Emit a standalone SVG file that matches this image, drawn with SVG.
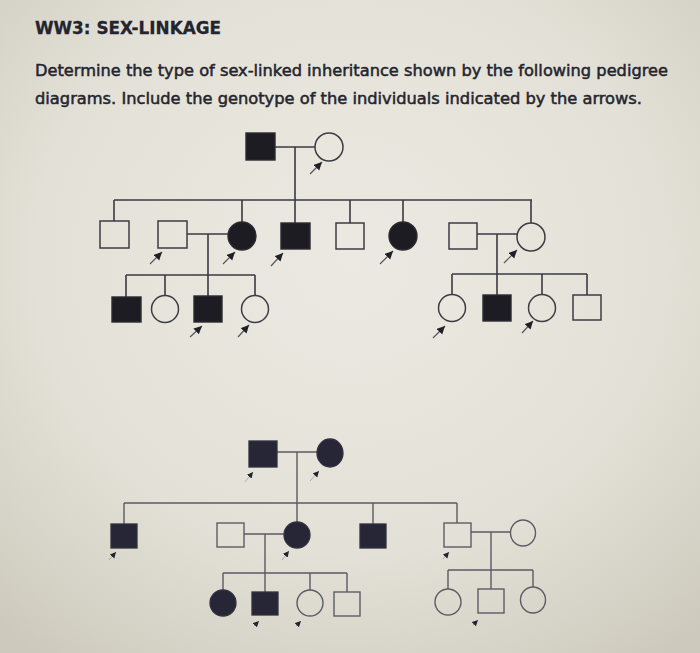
<svg xmlns="http://www.w3.org/2000/svg" width="700" height="653" viewBox="0 0 700 653">
<defs>
<radialGradient id="bg" cx="0.5" cy="0.4" r="0.75">
<stop offset="0" stop-color="#ebe9e1"/>
<stop offset="0.6" stop-color="#e3e1d7"/>
<stop offset="1" stop-color="#cdcabd"/>
</radialGradient>
<marker id="ah" markerUnits="userSpaceOnUse" markerWidth="10" markerHeight="10" refX="8" refY="4" orient="auto">
<path d="M0,0 L8,4 L0,8 Z" fill="#1f1f27"/>
</marker>
<marker id="ah2" markerUnits="userSpaceOnUse" markerWidth="8" markerHeight="8" refX="6" refY="3" orient="auto">
<path d="M0,0 L6,3 L0,6 Z" fill="#222230"/>
</marker>
</defs>
<style>
.t{font-family:"DejaVu Sans","Liberation Sans",sans-serif;fill:#24242e}
.title{font-weight:bold;font-size:17px;stroke:#24242e;stroke-width:0.3}
.body{font-size:16px;stroke:#24242e;stroke-width:0.5}
.ln{stroke:#3a3a44;stroke-width:1.6;fill:none}
.ln2{stroke:#5a5a64;stroke-width:1.4;fill:none}
.aff{fill:#1d1c22;stroke:#2a2a30;stroke-width:1.4}
.un{fill:none;stroke:#3c3c44;stroke-width:1.5}
.aff2{fill:#262637;stroke:#30303e;stroke-width:1.3}
.un2{fill:none;stroke:#5c5c66;stroke-width:1.4}
.ar{stroke:#555560;stroke-width:1.2;fill:none}
.ar2{stroke:#9a9aa0;stroke-width:0.8;fill:none}
</style>
<rect width="700" height="653" fill="url(#bg)"/>
<g id="texts">
<text class="t title" x="35" y="34" textLength="186" lengthAdjust="spacingAndGlyphs">WW3: SEX-LINKAGE</text>
<text class="t body" x="35" y="76" textLength="633" lengthAdjust="spacingAndGlyphs">Determine the type of sex-linked inheritance shown by the following pedigree</text>
<text class="t body" x="35" y="104" textLength="607" lengthAdjust="spacingAndGlyphs">diagrams. Include the genotype of the individuals indicated by the arrows.</text>
</g>
<g id="connectors">
<path class="ln" d="M275,147 H315 M295,147 V224 M114,200 H532 M114,200 V221 M242,200 V222 M350,200 V223 M403,200 V222 M531,200 V223"/>
<path class="ln" d="M187,234 H228 M208,234 V296 M126,275 H255 M126,275 V297 M165,275 V295.5 M255,275 V295.5"/>
<path class="ln" d="M477,234 H517 M497,234 V295 M452,274 H587 M452,274 V294.5 M542,274 V294.5 M587,274 V295"/>
<path class="ln2" d="M277,452 H317 M297,452 V522 M124,503 H457 M124,503 V524 M373,503 V524 M457,503 V523"/>
<path class="ln2" d="M244,534 H284 M265,534 V592 M223,573 H347 M223,573 V590 M310,573 V590 M347,573 V592"/>
<path class="ln2" d="M471,532 H510 M491,532 V589 M448,570 H533 M448,570 V589 M533,570 V587"/>
<g class="ar" marker-end="url(#ah)">
<line x1="310" y1="174" x2="322" y2="162"/>
<line x1="150" y1="264" x2="162" y2="252"/>
<line x1="223" y1="264" x2="235" y2="252"/>
<line x1="271" y1="266" x2="283" y2="253"/>
<line x1="380" y1="264" x2="393" y2="251"/>
<line x1="504" y1="263" x2="517" y2="250"/>
<line x1="190" y1="337" x2="202" y2="326"/>
<line x1="238" y1="337" x2="249" y2="325"/>
<line x1="433" y1="338" x2="445" y2="326"/>
<line x1="522" y1="333" x2="533" y2="321"/>
</g>
<g class="ar2" marker-end="url(#ah2)">
<line x1="245" y1="482" x2="253" y2="472"/>
<line x1="310" y1="481" x2="319" y2="471"/>
<line x1="109" y1="560" x2="116" y2="552"/>
<line x1="282" y1="560" x2="289" y2="551"/>
<line x1="443" y1="559" x2="449" y2="552"/>
<line x1="254" y1="626" x2="259" y2="621"/>
<line x1="296" y1="626" x2="301" y2="621"/>
<line x1="473" y1="625" x2="478" y2="620"/>
</g>
</g>
<g id="p1-I1"><rect class="aff" x="246" y="133" width="29" height="27"/></g>
<g id="p1-I2"><circle class="un" cx="329" cy="147" r="14"/></g>
<g id="p1-II1"><rect class="un" x="100" y="221" width="29" height="27"/></g>
<g id="p1-II2"><rect class="un" x="158" y="221" width="29" height="27"/></g>
<g id="p1-II3"><circle class="aff" cx="242" cy="236" r="14"/></g>
<g id="p1-II4"><rect class="aff" x="281" y="223" width="29" height="26"/></g>
<g id="p1-II5"><rect class="un" x="336" y="223" width="28" height="26"/></g>
<g id="p1-II6"><circle class="aff" cx="403" cy="236" r="14"/></g>
<g id="p1-II7"><rect class="un" x="449" y="223" width="28" height="26"/></g>
<g id="p1-II8"><circle class="un" cx="531" cy="237" r="14"/></g>
<g id="p1-III1"><rect class="aff" x="112" y="297" width="29" height="25"/></g>
<g id="p1-III2"><circle class="un" cx="165" cy="309" r="13.5"/></g>
<g id="p1-III3"><rect class="aff" x="194" y="296" width="28" height="26"/></g>
<g id="p1-III4"><circle class="un" cx="255" cy="309" r="13.5"/></g>
<g id="p1-III5"><circle class="un" cx="452" cy="308" r="13.5"/></g>
<g id="p1-III6"><rect class="aff" x="483" y="295" width="28" height="26"/></g>
<g id="p1-III7"><circle class="un" cx="542" cy="308" r="13.5"/></g>
<g id="p1-III8"><rect class="un" x="573" y="295" width="28" height="25"/></g>
<g id="p2-I1"><rect class="aff2" x="249" y="441" width="28" height="26"/></g>
<g id="p2-I2"><ellipse class="aff2" cx="330" cy="453" rx="13" ry="14"/></g>
<g id="p2-II1"><rect class="aff2" x="111" y="524" width="26" height="24"/></g>
<g id="p2-II2"><rect class="un2" x="217" y="523" width="27" height="24"/></g>
<g id="p2-II3"><ellipse class="aff2" cx="297" cy="535" rx="13" ry="13"/></g>
<g id="p2-II4"><rect class="aff2" x="360" y="524" width="26" height="24"/></g>
<g id="p2-II5"><rect class="un2" x="444" y="523" width="27" height="24"/></g>
<g id="p2-II6"><ellipse class="un2" cx="523" cy="533" rx="12.5" ry="13"/></g>
<g id="p2-III1"><ellipse class="aff2" cx="223" cy="603" rx="13" ry="13"/></g>
<g id="p2-III2"><rect class="aff2" x="252" y="592" width="26" height="23"/></g>
<g id="p2-III3"><ellipse class="un2" cx="310" cy="603" rx="13" ry="13"/></g>
<g id="p2-III4"><rect class="un2" x="334" y="592" width="26" height="24"/></g>
<g id="p2-III5"><ellipse class="un2" cx="448" cy="602" rx="13" ry="13"/></g>
<g id="p2-III6"><rect class="un2" x="478" y="589" width="26" height="24"/></g>
<g id="p2-III7"><ellipse class="un2" cx="533" cy="600" rx="12.5" ry="13"/></g>
</svg>
